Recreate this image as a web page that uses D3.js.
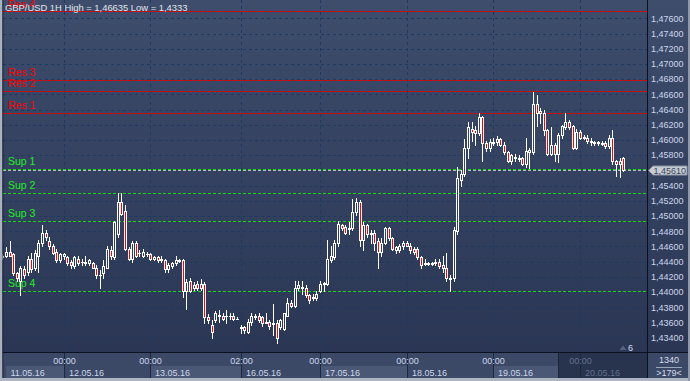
<!DOCTYPE html>
<html><head><meta charset="utf-8">
<script src="https://cdn.jsdelivr.net/npm/d3@7"></script>
<style>html,body{margin:0;padding:0;background:#2e3a56;overflow:hidden}svg{display:block;font-family:"Liberation Sans",Arial,sans-serif}</style>
</head><body><svg id="c" width="690" height="381"></svg>
<script>
const title = "GBP/USD 1H High = 1,46635 Low = 1,4333";
const openP = [1.4446,1.4448,1.4453,1.4450,1.4425,1.4415,1.4430,1.4426,1.4443,1.4431,
1.4448,1.4464,1.4478,1.4467,1.4460,1.4453,1.4442,1.4447,1.4446,1.4439,
1.4434,1.4444,1.4439,1.4438,1.4438,1.4438,1.4432,1.4422,1.4425,1.4432,
1.4455,1.4446,1.4477,1.4518,1.4507,1.4457,1.4444,1.4464,1.4452,1.4448,
1.4450,1.4450,1.4443,1.4446,1.4444,1.4442,1.4430,1.4434,1.4438,1.4442,
1.4442,1.4402,1.4415,1.4406,1.4411,1.4411,1.4410,1.4367,1.4357,1.4363,
1.4369,1.4369,1.4368,1.4368,1.4369,1.4365,1.4354,1.4354,1.4347,1.4360,
1.4368,1.4369,1.4367,1.4359,1.4360,1.4359,1.4359,1.4354,1.4352,1.4369,
1.4386,1.4382,1.4406,1.4406,1.4406,1.4396,1.4392,1.4392,1.4402,1.4411,
1.4411,1.4442,1.4446,1.4464,1.4488,1.4485,1.4484,1.4484,1.4505,1.4518,
1.4469,1.4488,1.4478,1.4478,1.4467,1.4453,1.4465,1.4484,1.4471,1.4455,
1.4455,1.4460,1.4464,1.4461,1.4456,1.4456,1.4446,1.4438,1.4437,1.4438,
1.4438,1.4439,1.4435,1.4431,1.4417,1.4418,1.4480,1.4548,1.4555,1.4590,
1.4615,1.4613,1.4609,1.4630,1.4596,1.4589,1.4597,1.4597,1.4601,1.4594,
1.4584,1.4572,1.4578,1.4576,1.4576,1.4569,1.4584,1.4584,1.4647,1.4638,
1.4636,1.4613,1.4582,1.4593,1.4582,1.4606,1.4617,1.4623,1.4618,1.4590,
1.4610,1.4603,1.4603,1.4598,1.4597,1.4596,1.4596,1.4596,1.4592,1.4603,
1.4572,1.4568,1.4576];
const highP = [1.4450,1.4459,1.4467,1.4452,1.4427,1.4434,1.4434,1.4448,1.4452,1.4455,
1.4468,1.4488,1.4481,1.4473,1.4463,1.4456,1.4452,1.4452,1.4448,1.4442,
1.4448,1.4447,1.4443,1.4447,1.4444,1.4440,1.4435,1.4429,1.4442,1.4461,
1.4461,1.4494,1.4530,1.4530,1.4514,1.4459,1.4467,1.4467,1.4455,1.4456,
1.4453,1.4452,1.4448,1.4448,1.4448,1.4444,1.4438,1.4440,1.4447,1.4444,
1.4444,1.4417,1.4418,1.4413,1.4414,1.4417,1.4413,1.4371,1.4363,1.4375,
1.4376,1.4372,1.4376,1.4372,1.4372,1.4367,1.4357,1.4356,1.4364,1.4372,
1.4371,1.4372,1.4369,1.4373,1.4363,1.4384,1.4363,1.4365,1.4373,1.4392,
1.4389,1.4415,1.4415,1.4415,1.4409,1.4398,1.4397,1.4401,1.4415,1.4413,
1.4468,1.4461,1.4469,1.4494,1.4490,1.4488,1.4492,1.4523,1.4524,1.4521,
1.4492,1.4490,1.4481,1.4481,1.4471,1.4471,1.4486,1.4486,1.4473,1.4461,
1.4463,1.4467,1.4467,1.4464,1.4459,1.4459,1.4448,1.4444,1.4440,1.4440,
1.4444,1.4444,1.4448,1.4452,1.4423,1.4485,1.4565,1.4560,1.4601,1.4623,
1.4623,1.4619,1.4635,1.4632,1.4598,1.4601,1.4602,1.4605,1.4603,1.4597,
1.4586,1.4582,1.4581,1.4580,1.4578,1.4602,1.4589,1.46635,1.4659,1.4642,
1.4639,1.4615,1.4617,1.4596,1.4609,1.4620,1.4636,1.4626,1.4620,1.4614,
1.4613,1.4606,1.4606,1.4602,1.4599,1.4599,1.4598,1.4598,1.4606,1.4613,
1.4574,1.4576,1.4578];
const lowP = [1.4444,1.4446,1.4447,1.4422,1.4415,1.4396,1.4419,1.4423,1.4427,1.4429,
1.4426,1.4461,1.4468,1.4457,1.4450,1.4439,1.4439,1.4444,1.4436,1.4432,
1.4431,1.4436,1.4436,1.4436,1.4435,1.4431,1.4418,1.4405,1.4418,1.4431,
1.4444,1.4443,1.4473,1.4501,1.4455,1.4442,1.4440,1.4446,1.4447,1.4446,
1.4447,1.4442,1.4442,1.4440,1.4440,1.4427,1.4427,1.4431,1.4435,1.4439,
1.4393,1.4378,1.4400,1.4403,1.4403,1.4403,1.4359,1.4359,1.4340,1.4360,
1.4360,1.4363,1.4359,1.4365,1.4363,1.4364,1.4346,1.4346,1.4346,1.4357,
1.4365,1.4361,1.4356,1.4359,1.4352,1.4343,1.4333,1.4351,1.4350,1.4368,
1.4380,1.4380,1.4403,1.4398,1.4393,1.4386,1.4390,1.4390,1.4400,1.4402,
1.4409,1.4439,1.4443,1.4461,1.4481,1.4476,1.4477,1.4481,1.4502,1.4461,
1.4455,1.4473,1.4465,1.4455,1.4431,1.4447,1.4463,1.4468,1.4455,1.4452,
1.4453,1.4457,1.4460,1.4452,1.4450,1.4443,1.4432,1.4435,1.4436,1.4435,
1.4435,1.4432,1.4426,1.4415,1.4402,1.4414,1.4477,1.4539,1.4552,1.4576,
1.4599,1.4593,1.4606,1.4572,1.4586,1.4586,1.4594,1.4594,1.4592,1.4581,
1.4571,1.4569,1.4573,1.4572,1.4567,1.4564,1.4563,1.4581,1.4619,1.4622,
1.4606,1.4580,1.4580,1.4573,1.4571,1.4603,1.4614,1.4614,1.4588,1.4588,
1.4601,1.4601,1.4596,1.4593,1.4594,1.4593,1.4593,1.4589,1.4589,1.4569,
1.4552,1.4551,1.4559];
const closeP = [1.4447,1.4453,1.4448,1.4425,1.4419,1.4431,1.4423,1.4443,1.4430,1.4451,
1.4464,1.4478,1.4473,1.4460,1.4452,1.4442,1.4450,1.4450,1.4438,1.4435,
1.4446,1.4438,1.4439,1.4440,1.4442,1.4432,1.4422,1.4423,1.4434,1.4457,
1.4447,1.4492,1.4518,1.4503,1.4457,1.4444,1.4464,1.4448,1.4451,1.4453,
1.4450,1.4443,1.4446,1.4442,1.4442,1.4430,1.4435,1.4438,1.4442,1.4441,
1.4402,1.4413,1.4402,1.4409,1.4406,1.4406,1.4367,1.4363,1.4348,1.4372,
1.4370,1.4365,1.4369,1.4368,1.4365,1.4365,1.4353,1.4350,1.4360,1.4368,
1.4367,1.4363,1.4359,1.4360,1.4355,1.4358,1.4340,1.4363,1.4372,1.4385,
1.4382,1.4406,1.4409,1.4407,1.4396,1.4389,1.4394,1.4398,1.4411,1.4412,
1.4444,1.4448,1.4465,1.4490,1.4484,1.4478,1.4483,1.4505,1.4518,1.4469,
1.4488,1.4476,1.4477,1.4465,1.4453,1.4465,1.4484,1.4471,1.4457,1.4459,
1.4460,1.4464,1.4461,1.4455,1.4453,1.4446,1.4435,1.4437,1.4438,1.4437,
1.4439,1.4434,1.4431,1.4418,1.4418,1.4481,1.4550,1.4555,1.4590,1.4617,
1.4611,1.4609,1.4630,1.4596,1.4589,1.4597,1.4596,1.4601,1.4594,1.4584,
1.4573,1.4580,1.4576,1.4575,1.4569,1.4586,1.4587,1.4647,1.4636,1.4635,
1.4613,1.4582,1.4593,1.4582,1.4606,1.4618,1.4623,1.4617,1.4590,1.4611,
1.4603,1.4604,1.4598,1.4597,1.4596,1.4597,1.4595,1.4592,1.4603,1.4572,
1.4568,1.4573,1.4561];
const yTicks = [1.434,1.436,1.438,1.440,1.442,1.444,1.446,1.448,1.450,1.452,1.454,1.456,1.458,1.460,1.462,1.464,1.466,1.468,1.470,1.472,1.474,1.476];
const dayIndex = [17,41,66,88,112,136,160];
const timeLabels = ["00:00","00:00","02:00","00:00","00:00","00:00","00:00"];
const dateLabels = ["11.05.16","12.05.16","13.05.16","16.05.16","17.05.16","18.05.16","19.05.16","20.05.16"];
const levelNames = ["Res 4","Res 3","Res 2","Res 1","Sup 1","Sup 2","Sup 3","Sup 4"];
const levelValues = [1.4769,1.4679,1.4664,1.4636,1.45615,1.4530,1.4493,1.4402];
const lastPrice = 1.45610;
const cornerTop = "1340", cornerBottom = ">179<", shiftLabel = "6";

const W = 690, H = 381, plotR = 647, plotB = 352, axisB = 378;
const svg = d3.select("#c");
const defs = svg.append("defs");
const lg = defs.append("linearGradient").attr("id","bg").attr("gradientUnits","userSpaceOnUse")
  .attr("x1",0).attr("y1",0).attr("x2",0).attr("y2",plotB);
lg.append("stop").attr("offset",0).attr("stop-color","#3e4d6c");
lg.append("stop").attr("offset",1).attr("stop-color","#2a3654");

const x = d3.scaleLinear().domain([0,172]).range([2.3, 2.3+172*3.61]);
const y = d3.scaleLinear().domain([1.476,1.434]).range([18.3,337.7]);
const fmt = v => d3.format(".5f")(v).replace(".",",");

// backgrounds
svg.append("rect").attr("x",0).attr("y",0).attr("width",W).attr("height",plotB).attr("fill","url(#bg)");
svg.append("rect").attr("x",0).attr("y",plotB).attr("width",W).attr("height",axisB-plotB).attr("fill","#3b4866");

// date boxes
const bounds = [6].concat(dayIndex.map(i=>Math.round(x(i))), [plotR]);
dateLabels.forEach((t,k)=>{
  if(k%2===0) svg.append("rect").attr("x",bounds[k]).attr("y",366).attr("width",bounds[k+1]-bounds[k]).attr("height",axisB-366).attr("fill","#4a5775");
});
svg.append("rect").attr("x",558).attr("y",plotB).attr("width",plotR-558).attr("height",axisB-plotB).attr("fill","#28334e");
svg.append("line").attr("x1",558.5).attr("x2",558.5).attr("y1",plotB).attr("y2",axisB).attr("stroke","#1c253c");

// grid
const grid = svg.append("g").attr("stroke","#1f3961").attr("stroke-width",1).attr("stroke-dasharray","3,3");
yTicks.forEach(t=>{const yy=Math.round(y(t))+0.5; grid.append("line").attr("x1",3).attr("x2",plotR).attr("y1",yy).attr("y2",yy);});
dayIndex.forEach(i=>{const xx=Math.round(x(i))+0.5; grid.append("line").attr("x1",xx).attr("x2",xx).attr("y1",0).attr("y2",plotB);});

// level lines
const lev = svg.append("g");
lev.append("line").attr("x1",3).attr("x2",plotR).attr("y1",Math.round(y(lastPrice))+0.5).attr("y2",Math.round(y(lastPrice))+0.5)
  .attr("stroke","#b8bcc4").attr("stroke-dasharray","3,2");
levelNames.forEach((n,k)=>{
  const isRes = n.startsWith("Res");
  const yy = Math.round(y(levelValues[k]))+0.5;
  lev.append("line").attr("x1",3).attr("x2",plotR).attr("y1",yy).attr("y2",yy)
    .attr("stroke",isRes?"#e60000":"#12d812").attr("stroke-dasharray",isRes?"4,1":"3,2");
  lev.append("text").attr("x",8).attr("y",Math.max(yy-5,8)).text(n).attr("font-size","10.5px")
    .attr("fill",isRes?"#ff0000":"#22ee22");
});

// candles
const data = openP.map((o,i)=>({i,o,h:highP[i],l:lowP[i],c:closeP[i]}));
const cg = svg.append("g");
data.forEach(d=>{
  const cx = Math.round(x(d.i))+0.5;
  cg.append("line").attr("x1",cx).attr("x2",cx).attr("y1",Math.round(y(d.h))).attr("y2",Math.round(y(d.l))+1)
    .attr("stroke","#ffffff").attr("stroke-width",1);
  const top = Math.round(y(Math.max(d.o,d.c)))+0.5, bot = Math.round(y(Math.min(d.o,d.c)))+0.5;
  if(bot-top<1){
    cg.append("line").attr("x1",cx-1.5).attr("x2",cx+1.5).attr("y1",top).attr("y2",top).attr("stroke","#ffffff");
  } else {
    cg.append("rect").attr("x",cx-1).attr("y",top).attr("width",2).attr("height",bot-top)
      .attr("fill",d.c<d.o?"#ff0000":"url(#bg)").attr("stroke","#ffffff").attr("stroke-width",1);
  }
});

// right axis panel
svg.append("rect").attr("x",plotR).attr("y",0).attr("width",W-plotR).attr("height",plotB).attr("fill","url(#bg)");
const ax = svg.append("g").attr("font-size","9px").attr("fill","#cdd8ec");
yTicks.filter(t=>Math.abs(y(t)-y(lastPrice))>7).forEach(t=>{ ax.append("text").attr("x",651).attr("y",y(t)+3.3).text(fmt(t)); });

// price label
const yp = Math.round(y(lastPrice))+0.5;
svg.append("path").attr("d",`M648.5,${yp} L653,${yp-4.5} L687,${yp-4.5} L687,${yp+4.5} L653,${yp+4.5} Z`)
  .attr("fill","#c7cbd3").attr("stroke","#8a93a3");
svg.append("text").attr("x",653.5).attr("y",yp+3.3).attr("font-size","9px").attr("fill","#3a465e").text(fmt(lastPrice));

// bottom axis labels
const bt = svg.append("g").attr("font-size","9px");
dayIndex.forEach((i,k)=>{
  const xx = Math.round(x(i))+0.5;
  bt.append("line").attr("x1",xx).attr("x2",xx).attr("y1",plotB).attr("y2",axisB).attr("stroke","#1c2740");
  bt.append("text").attr("x",xx).attr("y",364).attr("text-anchor","middle").text(timeLabels[k])
    .attr("fill", xx>558?"#64718c":"#cdd8ec");
});
dateLabels.forEach((t,k)=>{
  const xx = k===0 ? 10.5 : Math.round(x(dayIndex[k-1]))+5;
  bt.append("text").attr("x",xx).attr("y",375.5).text(t).attr("fill", xx>558?"#64718c":"#cdd8ec");
});

// shift marker
svg.append("path").attr("d","M619.5,350 L623,345.5 L626.5,350 Z").attr("fill","#56627c");
svg.append("text").attr("x",628).attr("y",350.5).attr("font-size","9px").attr("fill","#d6deee").text(shiftLabel);

// borders
svg.append("line").attr("x1",0).attr("x2",W).attr("y1",plotB+0.5).attr("y2",plotB+0.5).attr("stroke","#0b1120");
svg.append("line").attr("x1",plotR+0.5).attr("x2",plotR+0.5).attr("y1",0).attr("y2",axisB).attr("stroke","#0b1120");

// corner
svg.append("text").attr("x",669).attr("y",363).attr("text-anchor","middle").attr("font-size","9px").attr("fill","#d6deee").text(cornerTop);
svg.append("line").attr("x1",656).attr("x2",682).attr("y1",367.5).attr("y2",367.5).attr("stroke","#9aa6bc");
svg.append("text").attr("x",669).attr("y",376).attr("text-anchor","middle").attr("font-size","9px").attr("fill","#d6deee").text(cornerBottom);

// title
svg.append("text").attr("x",5).attr("y",11).attr("font-size","9.4px").attr("fill","#e2e6ee").text(title);

// outer frame
svg.append("rect").attr("x",0).attr("y",0).attr("width",2.5).attr("height",H).attr("fill","#a9b1bf");
svg.append("rect").attr("x",2.5).attr("y",0).attr("width",0.8).attr("height",axisB).attr("fill","#101828");
svg.append("rect").attr("x",0).attr("y",axisB).attr("width",W).attr("height",H-axisB).attr("fill","#aeb5c2");
svg.append("rect").attr("x",W-2).attr("y",0).attr("width",2).attr("height",H).attr("fill","#8e98aa");
</script></body></html>
